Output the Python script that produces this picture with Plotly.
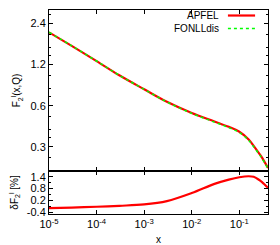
import numpy as np
import plotly.graph_objects as go

# ---- data ----
x_vals = [1e-5, 3e-5, 1e-4, 3e-4, 1e-3, 3e-3, 1e-2, 3e-2, 0.06, 0.1, 0.157, 0.2, 0.257, 0.3, 0.4]
f2_apfel = [2.06, 1.64, 1.27, 1.00, 0.79, 0.64, 0.53, 0.46, 0.42, 0.387, 0.34, 0.305, 0.27, 0.25, 0.21]
f2_fonll = [2.064, 1.643, 1.272, 1.001, 0.790, 0.639, 0.527, 0.455, 0.415, 0.382, 0.335, 0.301, 0.267, 0.247, 0.208]
delta_pct = [-0.20, -0.17, -0.13, -0.08, -0.01, 0.16, 0.57, 1.04, 1.26, 1.38, 1.43, 1.40, 1.25, 1.13, 0.84]

x_tickvals = [1e-5, 1e-4, 1e-3, 1e-2, 1e-1]
x_ticktext = ["10<sup>-5</sup>", "10<sup>-4</sup>", "10<sup>-3</sup>", "10<sup>-2</sup>", "10<sup>-1</sup>"]
top_tickvals = [0.3, 0.6, 1.2, 2.4]
top_ticktext = ["0.3", "0.6", "1.2", "2.4"]
top_minor = [0.2, 0.25, 0.35, 0.4, 0.5, 0.7, 0.8, 1.0, 1.4, 1.6, 2.0, 2.8]
bot_tickvals = [-0.4, 0.2, 0.8, 1.4]
bot_ticktext = ["-0.4", "0.2", "0.8", "1.4"]
bot_minor = [-0.1, 0.5, 1.1]

FONT = "Liberation Sans, Arial, Helvetica, sans-serif"

fig = go.Figure()
fig.add_trace(go.Scatter(x=x_vals, y=f2_apfel, mode="lines", name="APFEL",
                         line=dict(color="#ff0000", width=2.2, shape="spline"),
                         xaxis="x", yaxis="y", showlegend=False))
fig.add_trace(go.Scatter(x=x_vals, y=f2_fonll, mode="lines", name="FONLLdis",
                         line=dict(color="#00ff00", width=1.5, dash="dot", shape="spline"),
                         xaxis="x", yaxis="y", showlegend=False))
fig.add_trace(go.Scatter(x=x_vals, y=delta_pct, mode="lines", name="delta",
                         line=dict(color="#ff0000", width=2.2, shape="spline"),
                         xaxis="x2", yaxis="y2", showlegend=False))

xr = [np.log10(1e-5), np.log10(0.4)]
split = 0.211

common_axis = dict(showline=True, linecolor="black", linewidth=1, mirror="ticks",
                   ticks="inside", ticklen=4, tickcolor="black", showgrid=False,
                   zeroline=False, automargin=False,
                   tickfont=dict(family=FONT, size=11, color="black"))

# page body has an 8px default margin, so the figure is 8px smaller
fig.update_layout(
    width=272, height=237,
    margin=dict(l=41, r=12, t=2, b=31),
    paper_bgcolor="white", plot_bgcolor="white",
    font=dict(family=FONT, size=10, color="black"),
    xaxis=dict(type="log", range=xr, domain=[0, 1], anchor="y",
               tickvals=x_tickvals, showticklabels=False, **common_axis),
    yaxis=dict(type="log", range=[np.log10(0.2), np.log10(3.0)], domain=[split, 1], anchor="x",
               tickvals=top_tickvals, ticktext=top_ticktext,
               minor=dict(tickvals=top_minor, ticks="inside", ticklen=2, tickcolor="black"),
               title=dict(text="F<sub>2</sub><sup>l</sup>(x,Q)", standoff=7,
                          font=dict(family=FONT, size=10, color="black")),
               **common_axis),
    xaxis2=dict(type="log", range=xr, domain=[0, 1], anchor="y2",
                tickvals=x_tickvals, ticktext=x_ticktext, **common_axis),
    yaxis2=dict(range=[-0.5, 1.7], domain=[0, split], anchor="x2",
                tickvals=bot_tickvals, ticktext=bot_ticktext,
                minor=dict(tickvals=bot_minor, ticks="inside", ticklen=2, tickcolor="black"),
                title=dict(text="δF<sub>2</sub><sup>l</sup> [%]", standoff=7,
                           font=dict(family=FONT, size=10, color="black")),
                **common_axis),
)

# x-axis title
fig.add_annotation(text="x", xref="paper", yref="paper", x=0.5, y=-0.125,
                   xanchor="center", yanchor="middle", showarrow=False,
                   font=dict(family=FONT, size=10, color="black"))

# legend (text right-aligned, sample line to the right, gnuplot style)
legend_entries = [("APFEL", "#ff0000", "solid", 2.2, 0.973), ("FONLLdis", "#00ff00", "dot", 1.5, 0.909)]
for label, col, dash, w, yp in legend_entries:
    fig.add_annotation(text=label, xref="paper", yref="paper", x=0.785, y=yp,
                       xanchor="right", yanchor="middle", showarrow=False,
                       font=dict(family=FONT, size=10, color="black"))
    fig.add_shape(type="line", xref="paper", yref="paper", x0=0.817, x1=0.941, y0=yp, y1=yp,
                  line=dict(color=col, width=w, dash=dash))

fig.write_html("out.html")
